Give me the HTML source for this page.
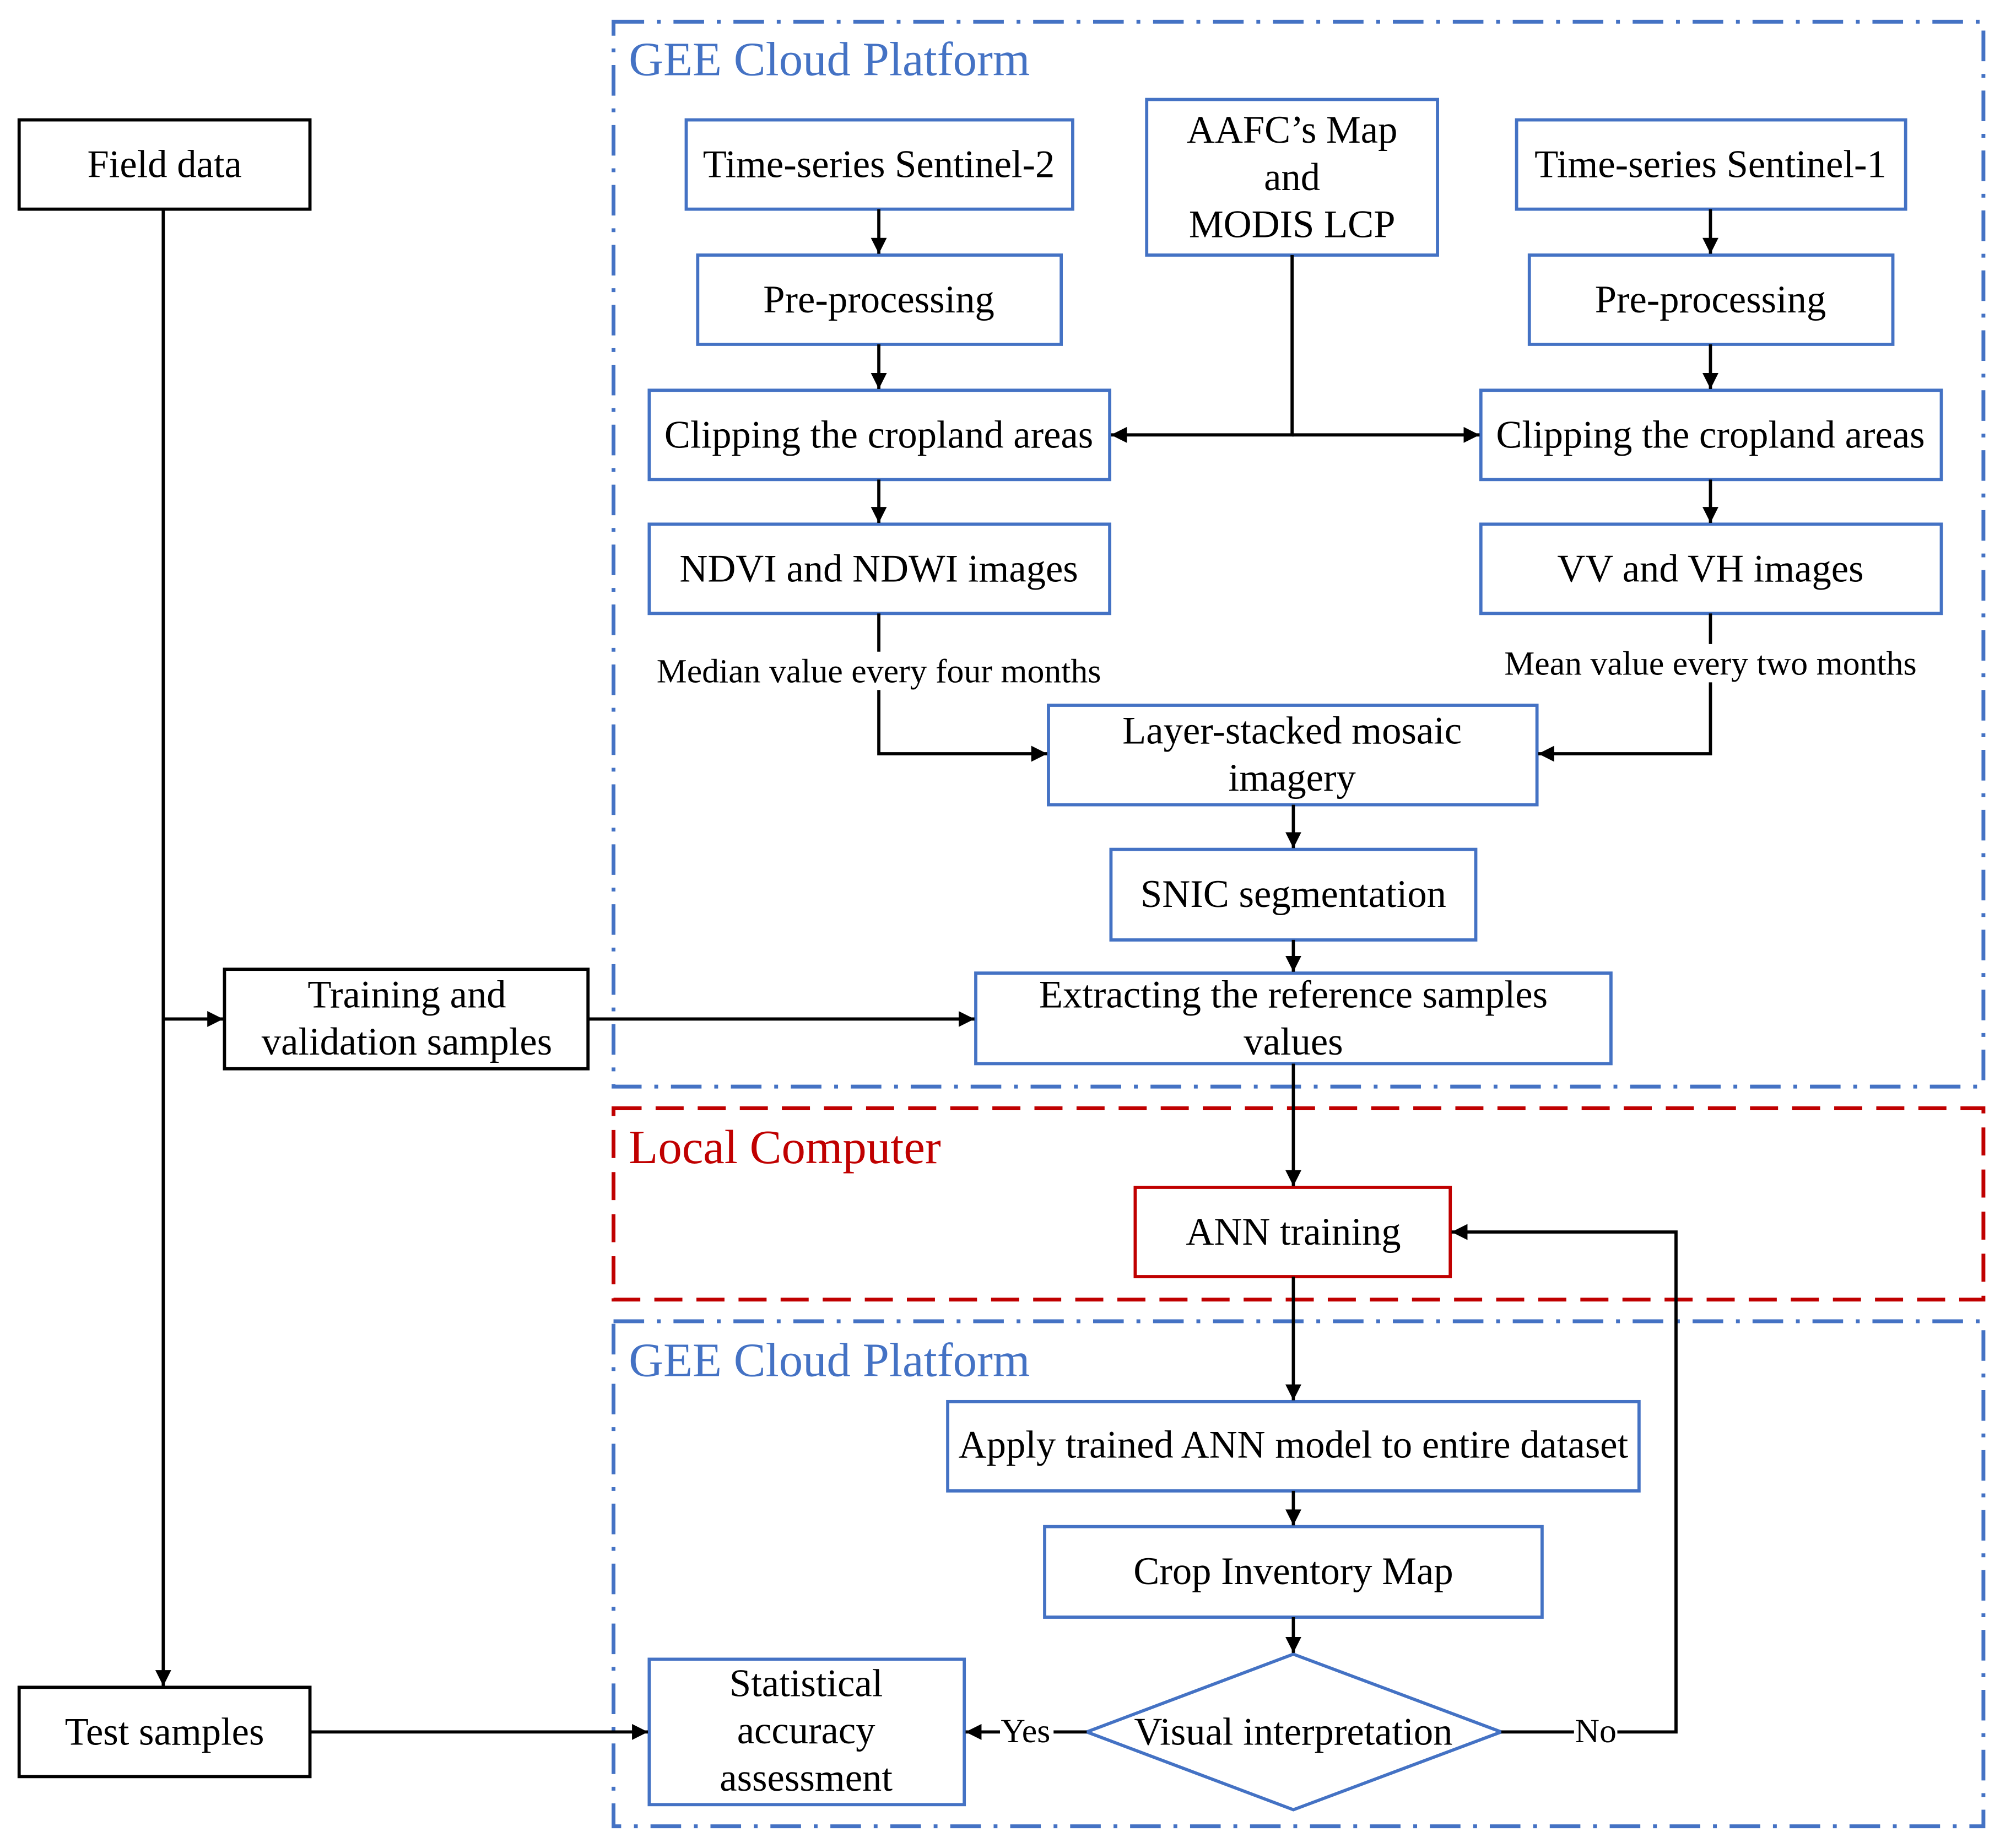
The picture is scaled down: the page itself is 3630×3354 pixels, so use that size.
<!DOCTYPE html>
<html><head><meta charset="utf-8"><style>
html,body{margin:0;padding:0;background:#fff;}
svg{display:block;}
text{font-family:"Liberation Serif",serif;}
</style></head><body>
<svg width="3630" height="3354" viewBox="0 0 1568 1449" preserveAspectRatio="none" xmlns="http://www.w3.org/2000/svg">
<defs>
<marker id="a" viewBox="0 0 10 10" refX="10" refY="5" markerWidth="5" markerHeight="5" orient="auto"><path d="M0,0L10,5L0,10z" fill="#000"/></marker>
</defs>
<rect width="1568" height="1449" fill="#fff"/>
<g fill="none" stroke="#4472c4" stroke-width="3" stroke-dasharray="24,10,3,10">
<rect x="481" y="17" width="1074" height="835"/>
<rect x="481" y="1036" width="1074" height="396"/>
</g>
<rect x="481" y="869" width="1074" height="150" fill="none" stroke="#c00000" stroke-width="3" stroke-dasharray="22,11"/>
<g font-size="37.5" fill="#4472c4">
<text x="493" y="59">GEE Cloud Platform</text>
<text x="493" y="1079">GEE Cloud Platform</text>
</g>
<text x="493" y="912" font-size="37.5" fill="#c00000">Local Computer</text>
<g fill="#fff" stroke-width="2.5">
<g stroke="#000">
<rect x="15" y="94" width="228" height="70"/>
<rect x="176" y="760" width="285" height="78"/>
<rect x="15" y="1323" width="228" height="70"/>
</g>
<g stroke="#4472c4">
<rect x="538" y="94" width="303" height="70"/>
<rect x="899" y="78" width="228" height="122"/>
<rect x="1189" y="94" width="305" height="70"/>
<rect x="547" y="200" width="285" height="70"/>
<rect x="1199" y="200" width="285" height="70"/>
<rect x="509" y="306" width="361" height="70"/>
<rect x="1161" y="306" width="361" height="70"/>
<rect x="509" y="411" width="361" height="70"/>
<rect x="1161" y="411" width="361" height="70"/>
<rect x="822" y="553" width="383" height="78"/>
<rect x="871" y="666" width="286" height="71"/>
<rect x="765" y="763" width="498" height="71"/>
<rect x="743" y="1099" width="542" height="70"/>
<rect x="819" y="1197" width="390" height="71"/>
<rect x="509" y="1301" width="247" height="114"/>
<polygon points="852,1358 1014,1297 1177,1358 1014,1419"/>
</g>
<rect x="890" y="931" width="247" height="70" stroke="#c00000"/>
</g>
<g fill="none" stroke="#000" stroke-width="2.5" marker-end="url(#a)">
<line x1="128" y1="164" x2="128" y2="1322"/>
<line x1="128" y1="799" x2="175" y2="799"/>
<line x1="461" y1="799" x2="764" y2="799"/>
<line x1="689" y1="164" x2="689" y2="199"/>
<line x1="689" y1="270" x2="689" y2="305"/>
<line x1="689" y1="376" x2="689" y2="410"/>
<line x1="1341" y1="164" x2="1341" y2="199"/>
<line x1="1341" y1="270" x2="1341" y2="305"/>
<line x1="1341" y1="376" x2="1341" y2="410"/>
<polyline points="1013,200 1013,341 871,341"/>
<line x1="1013" y1="341" x2="1160" y2="341"/>
<polyline points="689,541 689,591 821,591"/>
<polyline points="1341,535 1341,591 1206,591"/>
<line x1="1014" y1="631" x2="1014" y2="665"/>
<line x1="1014" y1="737" x2="1014" y2="762"/>
<line x1="1014" y1="834" x2="1014" y2="930"/>
<line x1="1014" y1="1001" x2="1014" y2="1098"/>
<line x1="1014" y1="1169" x2="1014" y2="1196"/>
<line x1="1014" y1="1268" x2="1014" y2="1296"/>
<line x1="243" y1="1358" x2="508" y2="1358"/>
<line x1="784" y1="1358" x2="757" y2="1358"/>
<polyline points="1268,1358 1314,1358 1314,966 1138,966"/>
</g>
<g stroke="#000" stroke-width="2.5">
<line x1="689" y1="481" x2="689" y2="511"/>
<line x1="1341" y1="481" x2="1341" y2="505"/>
<line x1="826" y1="1358" x2="852" y2="1358"/>
<line x1="1177" y1="1358" x2="1234" y2="1358"/>
</g>
<g font-size="30.5" fill="#000" text-anchor="middle">
<text x="129" y="139">Field data</text>
<text x="689" y="139">Time-series Sentinel-2</text>
<text x="1013" y="112">AAFC’s Map</text>
<text x="1013" y="149">and</text>
<text x="1013" y="186">MODIS LCP</text>
<text x="1341" y="139">Time-series Sentinel-1</text>
<text x="689" y="245">Pre-processing</text>
<text x="1341" y="245">Pre-processing</text>
<text x="689" y="351">Clipping the cropland areas</text>
<text x="1341" y="351">Clipping the cropland areas</text>
<text x="689" y="456">NDVI and NDWI images</text>
<text x="1341" y="456">VV and VH images</text>
<text x="1013" y="583">Layer-stacked mosaic</text>
<text x="1013" y="620">imagery</text>
<text x="1014" y="711">SNIC segmentation</text>
<text x="319" y="790">Training and</text>
<text x="319" y="827">validation samples</text>
<text x="1014" y="790">Extracting the reference samples</text>
<text x="1014" y="827">values</text>
<text x="1014" y="976">ANN training</text>
<text x="1014" y="1143">Apply trained ANN model to entire dataset</text>
<text x="1014" y="1242">Crop Inventory Map</text>
<text x="1014" y="1368">Visual interpretation</text>
<text x="632" y="1330">Statistical</text>
<text x="632" y="1367">accuracy</text>
<text x="632" y="1404">assessment</text>
<text x="129" y="1368">Test samples</text>
</g>
<g font-size="26.7" fill="#000" text-anchor="middle">
<text x="689" y="535">Median value every four months</text>
<text x="1341" y="529">Mean value every two months</text>
<text x="804" y="1366">Yes</text>
<text x="1251" y="1366">No</text>
</g>
</svg>
</body></html>
